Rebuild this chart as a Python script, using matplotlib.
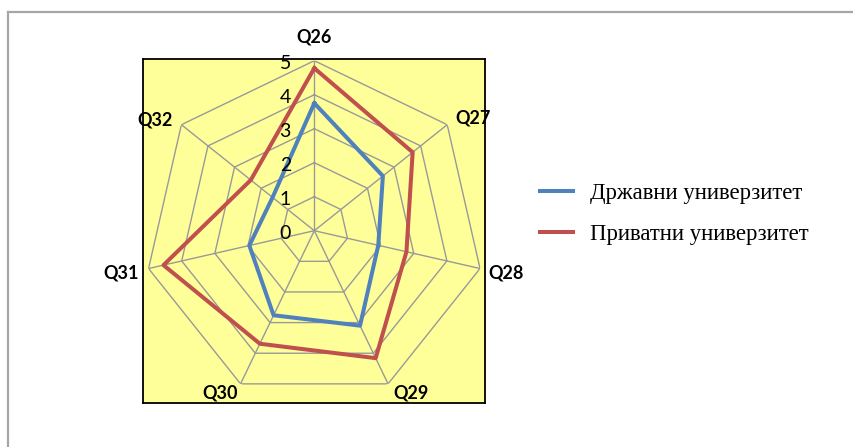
import numpy as np
import matplotlib
matplotlib.use("Agg")
import matplotlib.pyplot as plt
from matplotlib.lines import Line2D
from matplotlib.transforms import offset_copy

# survey answers, average score per question (0-5 scale)
questions = ['Q26', 'Q27', 'Q28', 'Q29', 'Q30', 'Q31', 'Q32']
state_uni = [3.75, 2.58, 1.93, 3.10, 2.76, 1.96, 1.57]
private_uni = [4.78, 3.70, 2.78, 4.16, 3.69, 4.55, 2.39]
levels = [0, 1, 2, 3, 4, 5]
series_names = ['Државни универзитет', 'Приватни универзитет']

W, H = 854, 447
fig = plt.figure(figsize=(W / 100, H / 100), dpi=100)

# grey outer frame (top and left edges)
fig.add_artist(Line2D([8 / W, 8 / W], [0, 1 - 12 / H], color='#a6a6a6', lw=1.6))
fig.add_artist(Line2D([8 / W, 1], [1 - 12 / H, 1 - 12 / H], color='#a6a6a6', lw=1.6))

# yellow plot area
bg = fig.add_axes([143 / W, 1 - 403 / H, 342 / W, 344 / H])
bg.set_facecolor('#ffff99')
bg.set_xticks([])
bg.set_yticks([])
for s in bg.spines.values():
    s.set_color('black')
    s.set_linewidth(1.3)

ax = fig.add_axes([144.3 / W, 1 - 400.7 / H, 340 / W, 340 / H], projection='polar')
ax.set_axis_off()
ax.set_theta_offset(np.pi / 2)
ax.set_theta_direction(-1)
ax.set_ylim(0, 5)

n = len(questions)
theta = np.linspace(0, 2 * np.pi, n, endpoint=False)
theta_c = np.append(theta, theta[0])

grid_kw = dict(color='#999999', lw=1.0, zorder=1)
for lv in levels[1:]:
    ax.plot(theta_c, [lv] * (n + 1), **grid_kw)
for t in theta:
    ax.plot([t, t], [0, levels[-1]], **grid_kw)

ax.plot(theta_c, state_uni + state_uni[:1], color='#4f81bd', lw=2.9, zorder=3,
        label=series_names[0])
ax.plot(theta_c, private_uni + private_uni[:1], color='#c0504d', lw=2.9, zorder=3,
        label=series_names[1])

# value labels along the top spoke
tick_tr = offset_copy(ax.transData, fig=fig, x=-29, y=-3, units='dots')
for lv in levels:
    ax.text(0, lv, str(lv), transform=tick_tr, ha='center', va='center',
            fontsize=14, family='Lato', zorder=4)

# question labels around the outside
offsets = [(0, 24, 'center'), (8, 7, 'left'), (8, -4, 'left'), (5, -9, 'left'),
           (-3, -9, 'right'), (-10, -4, 'right'), (-9, 5, 'right')]
for t, q, (dx, dy, ha) in zip(theta, questions, offsets):
    tr = offset_copy(ax.transData, fig=fig, x=dx, y=dy, units='dots')
    ax.text(t, levels[-1], q, transform=tr, ha=ha, va='center', fontsize=13,
            fontweight='bold', family='Lato', zorder=4)

fig.legend(loc='center left', bbox_to_anchor=(540 / W, 1 - 214 / H), frameon=False,
           borderpad=0, borderaxespad=0,
           handlelength=1.45, handletextpad=0.75, labelspacing=0.88,
           prop={'family': 'Liberation Serif', 'size': 16.4})

fig.savefig('out.png', dpi=100)
